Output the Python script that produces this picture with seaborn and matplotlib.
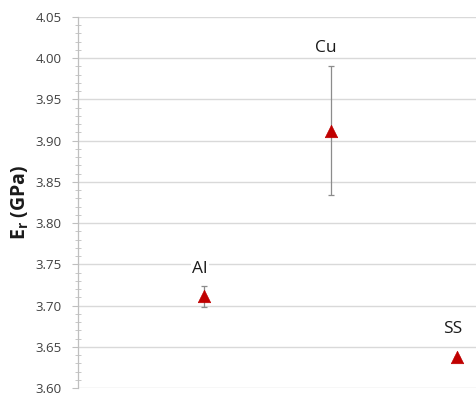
import matplotlib
matplotlib.use("Agg")
import matplotlib.pyplot as plt
from matplotlib.ticker import MultipleLocator, FormatStrFormatter
import seaborn as sns
import pandas as pd

# Reduced modulus per substrate material
materials = ["Al", "Cu", "SS"]
positions = [1, 2, 3]
modulus = [3.711, 3.912, 3.638]
modulus_err = [0.013, 0.078, 0.0]

df = pd.DataFrame({"material": materials, "pos": positions,
                   "Er": modulus, "err": modulus_err})

sns.set_theme(style="white")
plt.rcParams["font.family"] = ["Open Sans", "DejaVu Sans"]

fig = plt.figure(figsize=(4.77, 3.93), dpi=100)
ax = fig.add_axes([78 / 477, 5 / 393, 399 / 477, 371 / 393])

ax.errorbar(df["pos"], df["Er"], yerr=df["err"], fmt="none",
            ecolor="#8c8c8c", elinewidth=0.9, capsize=2.5, capthick=0.9,
            zorder=2)
sns.scatterplot(data=df, x="pos", y="Er", marker="^", s=80,
                color="#c00000", edgecolor="#c00000", linewidth=0.5,
                ax=ax, zorder=3, legend=False)

# data labels sit above each marker
label_gap = [0.033, 0.101, 0.034]
for x, y, gap, name in zip(df["pos"], df["Er"], label_gap, materials):
    ax.text(x - 0.035, y + gap, name, ha="center", va="center",
            fontsize=12.5, color="#1a1a1a",
            bbox=dict(facecolor="white", edgecolor="none", pad=1.0), zorder=4)

ax.set_xlim(0, 3.16)
ax.set_ylim(3.60, 4.05)
ax.yaxis.set_major_locator(MultipleLocator(0.05))
ax.yaxis.set_minor_locator(MultipleLocator(0.01))
ax.yaxis.set_major_formatter(FormatStrFormatter("%.2f"))
ax.set_xticks([])

ax.grid(axis="y", which="major", color="#d9d9d9", linewidth=1.0)
ax.set_axisbelow(True)
for side in ["top", "right", "bottom"]:
    ax.spines[side].set_visible(False)
ax.spines["left"].set_color("#bfbfbf")
ax.spines["left"].set_linewidth(0.9)

ax.tick_params(axis="y", which="major", left=True, length=4, width=0.8,
               color="#bfbfbf", labelsize=9.5, labelcolor="#404040", pad=8)
ax.tick_params(axis="y", which="minor", left=True, direction="inout",
               length=4, width=0.6, color="#bfbfbf")

ax.set_xlabel("")
ax.set_ylabel(r"E$_\mathregular{r}$ (GPa)", fontsize=14, fontweight="bold",
              color="#1a1a1a", labelpad=3)

fig.savefig("out.png", dpi=100)
